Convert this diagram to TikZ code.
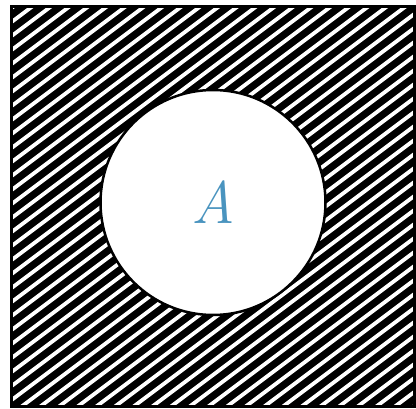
\documentclass[tikz,border=0pt]{standalone}
\usepackage{xcolor}
\definecolor{labelblue}{HTML}{4A94BF}
\begin{document}
\begin{tikzpicture}[x=1pt,y=-1pt,
  frame/.style={draw=black,line width=3pt},
  hatchline/.style={white,line width=3.8pt},
  hole/.style={draw=black,fill=white,line width=2.5pt},
  lbl/.style={text=labelblue,font=\fontsize{60}{62}\selectfont\itshape}]
\useasboundingbox (0,0) rectangle (416,408);
\coordinate (c) at (213,202.5);
\fill[black] (11,6) rectangle (415,407);
\begin{scope}
  \clip (11,6) rectangle (415,407);
  \foreach \k in {0,...,56}{
    \pgfmathsetmacro{\cc}{2.7+14*\k}
    \draw[hatchline] (0,\cc) -- (420,\cc-315);
  }
\end{scope}
\draw[frame] (11.5,6.5) rectangle (414.5,406);
\node[hole,circle,minimum size=225pt,inner sep=0pt] (set) at (c) {};
\node[lbl] (a) at (c) {A};
\end{tikzpicture}
\end{document}
